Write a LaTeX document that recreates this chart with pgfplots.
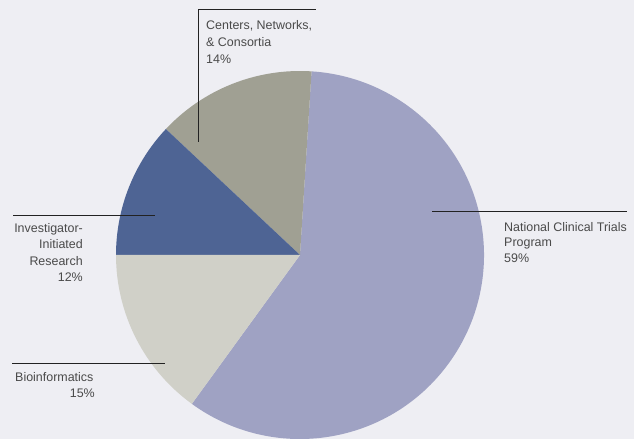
\documentclass[border=0pt]{standalone}
\usepackage{pgfplots}
\pgfplotsset{compat=1.18}
\usepackage{fontspec}
\setmainfont{Liberation Sans}
\definecolor{bg}{HTML}{EEEEF3}
\definecolor{cNat}{HTML}{9FA2C3}
\definecolor{cBio}{HTML}{D0D0C8}
\definecolor{cInv}{HTML}{4E6494}
\definecolor{cCen}{HTML}{A0A093}
\definecolor{txt}{HTML}{4A4A4A}
\definecolor{ldr}{HTML}{222222}
% shares in percent
\def\vNat{59}
\def\vCen{14}
\def\vInv{12}
\def\vBio{15}
\pgfmathsetmacro{\aA}{-126}
\pgfmathsetmacro{\aB}{\aA+3.6*\vNat}
\pgfmathsetmacro{\aC}{\aB+3.6*\vCen}
\pgfmathsetmacro{\aD}{\aC+3.6*\vInv}
\pgfmathsetmacro{\aE}{\aD+3.6*\vBio}
\begin{document}
\begin{tikzpicture}
\begin{axis}[
  x=1bp, y=1bp,
  xmin=0, xmax=634, ymin=0, ymax=439,
  hide axis, clip=false,
  scale only axis,
]
\fill[bg] (rel axis cs:0,0) rectangle (rel axis cs:1,1);
\coordinate (LL) at (rel axis cs:0,0);
\coordinate (UR) at (rel axis cs:1,1);
\fill[cNat] (axis cs:300,184) -- ++(\aA:184bp) arc[start angle=\aA, end angle=\aB, radius=184bp] -- cycle;
\fill[cCen] (axis cs:300,184) -- ++(\aB:184bp) arc[start angle=\aB, end angle=\aC, radius=184bp] -- cycle;
\fill[cInv] (axis cs:300,184) -- ++(\aC:184bp) arc[start angle=\aC, end angle=\aD, radius=184bp] -- cycle;
\fill[cBio] (axis cs:300,184) -- ++(\aD:184bp) arc[start angle=\aD, end angle=\aE, radius=184bp] -- cycle;
% leader lines
\draw[ldr, line width=0.9pt] (axis cs:198,297) -- (axis cs:198,430) -- (axis cs:316,430);
\draw[ldr, line width=0.9pt] (axis cs:13,224) -- (axis cs:155,224);
\draw[ldr, line width=0.9pt] (axis cs:12,76) -- (axis cs:165,76);
\draw[ldr, line width=0.9pt] (axis cs:432,228) -- (axis cs:627,228);
% labels
\begin{scope}[every node/.style={inner sep=0pt, text=txt, font=\fontsize{12.5}{15}\selectfont}]
\node[anchor=base west] at (axis cs:206,409) {Centers, Networks,};
\node[anchor=base west] at (axis cs:206,392) {\& Consortia};
\node[anchor=base west] at (axis cs:206,375.5) {14\%};
\node[anchor=base east] at (axis cs:83,206) {Investigator-};
\node[anchor=base east] at (axis cs:83,190) {Initiated};
\node[anchor=base east] at (axis cs:83,173) {Research};
\node[anchor=base east] at (axis cs:83,157) {12\%};
\node[anchor=base west] at (axis cs:15,57) {Bioinformatics};
\node[anchor=base east] at (axis cs:95,41) {15\%};
\node[anchor=base west] at (axis cs:504,207) {National Clinical Trials};
\node[anchor=base west] at (axis cs:504,192) {Program};
\node[anchor=base west] at (axis cs:504,176) {59\%};
\end{scope}
\end{axis}
\pgfresetboundingbox
\useasboundingbox (LL) rectangle (UR);
\end{tikzpicture}
\end{document}
